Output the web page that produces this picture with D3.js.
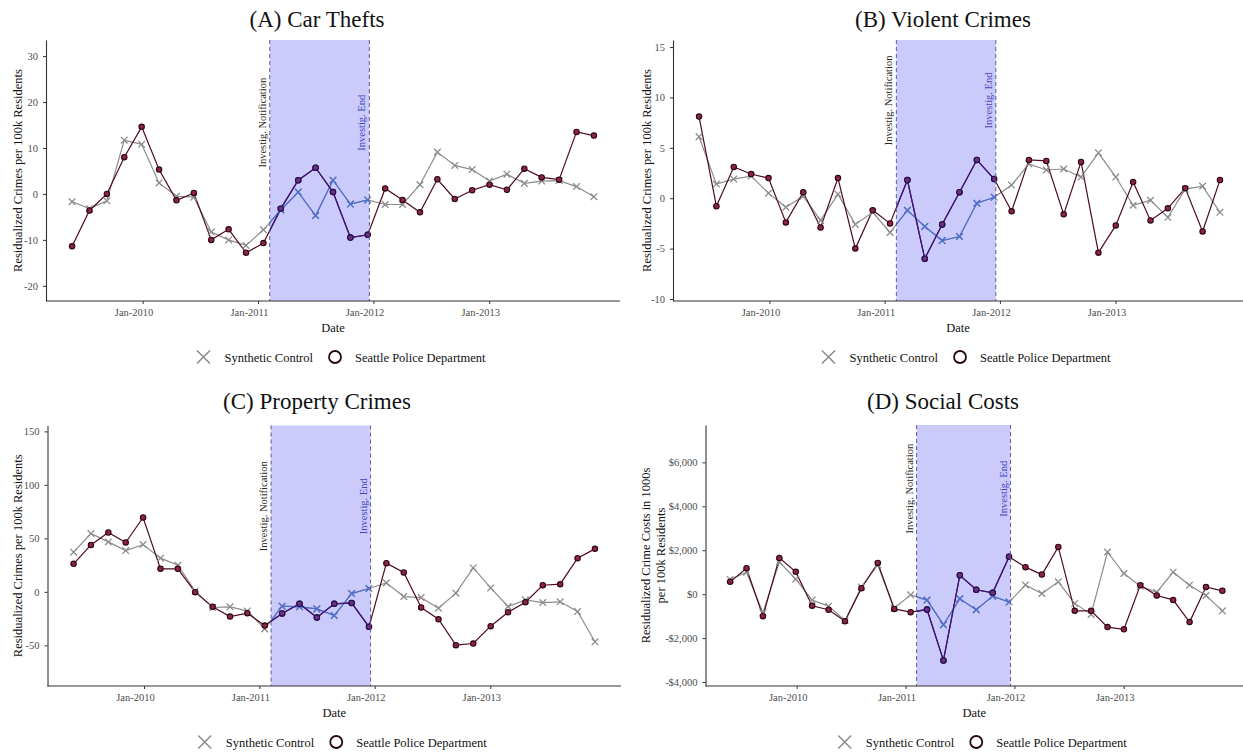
<!DOCTYPE html>
<html>
<head>
<meta charset="utf-8">
<script src="https://cdn.jsdelivr.net/npm/d3@7"></script>
<style>
  body { margin: 0; background: #fff; }
  svg { display: block; font-family: "Liberation Serif", "DejaVu Serif", serif; }
</style>
</head>
<body>
<div id="container"></div>
<script>
// periods (one point each)
const periodDates = [
  "2009-05-23", "2009-07-17", "2009-09-10", "2009-11-04", "2009-12-29",
  "2010-02-22", "2010-04-18", "2010-06-12", "2010-08-06", "2010-09-30",
  "2010-11-24", "2011-01-18", "2011-03-14", "2011-05-08", "2011-07-02",
  "2011-08-26", "2011-10-20", "2011-12-14", "2012-02-07", "2012-04-02",
  "2012-05-27", "2012-07-21", "2012-09-14", "2012-11-08", "2013-01-02",
  "2013-02-26", "2013-04-22", "2013-06-16", "2013-08-10", "2013-10-04",
  "2013-11-28"
];

const notifyDate = "2011-02-07";
const endDate = "2011-12-19";

const xTickDates = ["2010-01-01", "2011-01-01", "2012-01-01", "2013-01-01"];
const xTickLabels = ["Jan-2010", "Jan-2011", "Jan-2012", "Jan-2013"];

// (A) car thefts
const carSPD = [-11.4, -3.6, 0, 8.0, 14.6, 5.3, -1.4, 0.2, -10.0, -7.7, -12.8, -10.7, -3.2, 3.0, 5.7, 0.4,
  -9.5, -8.9, 1.2, -1.3, -4.0, 3.2, -1.1, 0.8, 2.0, 0.9, 5.5, 3.6, 3.1, 13.5, 12.7];
const carSynth = [-1.7, -3.2, -1.5, 11.7, 10.8, 2.4, -0.5, -0.7, -8.3, -10.0, -11.2, -7.8, -3.5, 0.4, -4.7, 3.0,
  -2.2, -1.3, -2.3, -2.3, 2.0, 9.1, 6.2, 5.3, 2.8, 4.3, 2.3, 2.8, 2.9, 1.6, -0.6];
const carTicks = [-20, -10, 0, 10, 20, 30];

// (B) violent crimes
const violentSPD = [8.1, -0.8, 3.1, 2.4, 2.0, -2.4, 0.6, -2.9, 2.0, -5.0, -1.2, -2.5, 1.8, -6.0, -2.6, 0.6,
  3.8, 1.9, -1.3, 3.8, 3.7, -1.6, 3.6, -5.4, -2.7, 1.6, -2.2, -1.0, 1.0, -3.3, 1.8];
const violentSynth = [6.1, 1.4, 1.9, 2.2, 0.5, -0.9, 0.2, -2.2, 0.4, -2.6, -1.4, -3.4, -1.2, -2.8, -4.2, -3.8,
  -0.5, 0.1, 1.3, 3.4, 2.8, 2.9, 2.1, 4.5, 2.1, -0.7, -0.2, -1.9, 0.9, 1.2, -1.4];
const violentTicks = [-10, -5, 0, 5, 10, 15];

// (C) property crimes
const propertySPD = [26.2, 43.9, 55.5, 46.1, 69.5, 21.5, 21.5, -0.3, -14.0, -23.1, -19.9, -31.5, -20.2, -11.2,
  -24.0, -11.2, -10.3, -32.7, 26.8, 18.1, -14.6, -25.5, -49.8, -48.3, -32.1, -19.0, -9.7, 6.2, 7.2, 31.5, 40.2];
const propertySynth = [37.1, 54.5, 46.7, 38.6, 44.2, 31.5, 24.9, 0.6, -14.6, -14.0, -17.8, -34.6, -13.4, -14.0,
  -15.9, -22.1, -1.6, 3.1, 8.4, -4.4, -5.3, -15.3, -1.2, 22.4, 3.7, -13.7, -7.5, -10.0, -9.3, -18.4, -46.7];
const propertyTicks = [-50, 0, 50, 100, 150];

// (D) social costs
const costSPD = [560, 1180, -1000, 1650, 1015, -530, -710, -1230, 270, 1420, -670, -820, -700, -3015, 860, 200,
  60, 1700, 1230, 890, 2150, -760, -760, -1500, -1600, 410, -60, -260, -1270, 330, 150];
const costSynth = [670, 1000, -850, 1470, 680, -270, -545, -1200, 330, 1330, -640, -30, -270, -1390, -210, -710,
  -90, -360, 420, 30, 560, -420, -920, 1920, 940, 360, 90, 1000, 410, -60, -760];
const costTicks = [-4000, -2000, 0, 2000, 4000, 6000];

const legendLabels = ["Synthetic Control", "Seattle Police Department"];

const W = 1243, H = 754;
const parse = d3.timeParse("%Y-%m-%d");
const dates = periodDates.map(parse);

// hyphen minus like the original, not the unicode one d3 uses
const numFmt = d => (d < 0 ? "-" : "") + Math.abs(d);
const moneyFmt = d => (d < 0 ? "-" : "") + "$" + d3.format(",")(Math.abs(d));

const panels = [
  { title: "(A) Car Thefts", spd: carSPD, synth: carSynth, ticks: carTicks, fmt: numFmt,
    yDomain: [-23.3, 33.5], yTitle: ["Residualized Crimes per 100k Residents"], labelY: 15.5,
    l: 46, r: 620, t: 40, b: 301, titleX: 317, titleY: 27, yTitleX: [22] },
  { title: "(B) Violent Crimes", spd: violentSPD, synth: violentSynth, ticks: violentTicks, fmt: numFmt,
    yDomain: [-10.2, 15.7], yTitle: ["Residualized Crimes per 100k Residents"], labelY: 9.7,
    l: 673, r: 1246, t: 40, b: 301, titleX: 943, titleY: 27, yTitleX: [651] },
  { title: "(C) Property Crimes", spd: propertySPD, synth: propertySynth, ticks: propertyTicks, fmt: numFmt,
    yDomain: [-88, 155.5], yTitle: ["Residualized Crimes per 100k Residents"], labelY: 80,
    l: 47.5, r: 621, t: 425.5, b: 686, titleX: 317, titleY: 409, yTitleX: [22] },
  { title: "(D) Social Costs", spd: costSPD, synth: costSynth, ticks: costTicks, fmt: moneyFmt,
    yDomain: [-4180, 7700], yTitle: ["Residualized Crime Costs in 1000s", "per 100k Residents"], labelY: 4800,
    l: 705.5, r: 1247, t: 425, b: 686, titleX: 943, titleY: 409, yTitleX: [650, 665] }
];

const C = {
  axis: "#333333", tickText: "#4d4d4d",
  spdLine: "#4f0a1c", spdFill: "#8e2443", spdStroke: "#2a0610",
  synth: "#8c8c8c",
  shade: "#cbcbfb", dash: "#5c5c9c",
  spdLineIn: "#3a1480", spdFillIn: "#6e2f86", spdStrokeIn: "#22104e",
  synthIn: "#4d6ed2", endText: "#4545c0"
};

const svg = d3.select("#container").append("svg")
  .attr("width", W).attr("height", H);
svg.append("rect").attr("width", W).attr("height", H).attr("fill", "#fff");

const xPath = "M-3.3,-3.3L3.3,3.3M-3.3,3.3L3.3,-3.3";

panels.forEach((p, pi) => {
  const ext = d3.extent(dates);
  const span = ext[1] - ext[0];
  const x = d3.scaleTime()
    .domain([new Date(+ext[0] - span * 0.05), new Date(+ext[1] + span * 0.05)])
    .range([p.l, p.r]);
  const y = d3.scaleLinear().domain(p.yDomain).range([p.b, p.t]);

  const g = svg.append("g");
  const x0 = x(parse(notifyDate)), x1 = x(parse(endDate));

  // shaded investigation window
  g.append("rect")
    .attr("x", x0).attr("y", p.t)
    .attr("width", x1 - x0).attr("height", p.b - p.t)
    .attr("fill", C.shade);

  const clipId = "win" + pi;
  svg.append("clipPath").attr("id", clipId)
    .append("rect")
    .attr("x", x0).attr("y", p.t - 10)
    .attr("width", x1 - x0).attr("height", p.b - p.t + 20);

  const line = d3.line().x((d, i) => x(dates[i])).y(d => y(d));

  function drawSeries(layer, col) {
    layer.append("path").datum(p.synth)
      .attr("d", line).attr("fill", "none")
      .attr("stroke", col.synth).attr("stroke-width", 1.2);
    layer.append("path").datum(p.spd)
      .attr("d", line).attr("fill", "none")
      .attr("stroke", col.spdLine).attr("stroke-width", 1.2);
    layer.selectAll(".sx").data(p.synth).enter().append("path")
      .attr("d", xPath)
      .attr("transform", (d, i) => `translate(${x(dates[i])},${y(d)})`)
      .attr("stroke", col.synth).attr("stroke-width", 1.3).attr("fill", "none");
    layer.selectAll(".sc").data(p.spd).enter().append("circle")
      .attr("cx", (d, i) => x(dates[i])).attr("cy", d => y(d))
      .attr("r", 2.7)
      .attr("fill", col.spdFill).attr("stroke", col.spdStroke).attr("stroke-width", 1.1);
  }

  drawSeries(g.append("g"), { synth: C.synth, spdLine: C.spdLine, spdFill: C.spdFill, spdStroke: C.spdStroke });
  drawSeries(g.append("g").attr("clip-path", `url(#${clipId})`),
    { synth: C.synthIn, spdLine: C.spdLineIn, spdFill: C.spdFillIn, spdStroke: C.spdStrokeIn });

  // dashed boundaries
  [x0, x1].forEach(xx => {
    g.append("line")
      .attr("x1", xx).attr("x2", xx).attr("y1", p.t).attr("y2", p.b)
      .attr("stroke", C.dash).attr("stroke-width", 1).attr("stroke-dasharray", "4,3");
  });

  // annotations
  const ly = y(p.labelY);
  g.append("text")
    .attr("transform", `translate(${x0 - 4},${ly}) rotate(-90)`)
    .attr("text-anchor", "middle").attr("font-size", 10.5).attr("fill", "#262626")
    .text("Investig. Notification");
  g.append("text")
    .attr("transform", `translate(${x1 - 4},${ly}) rotate(-90)`)
    .attr("text-anchor", "middle").attr("font-size", 10.5).attr("fill", C.endText)
    .text("Investig. End");

  // axes
  const xAxis = d3.axisBottom(x)
    .tickValues(xTickDates.map(parse))
    .tickFormat((d, i) => xTickLabels[i])
    .tickSize(3).tickSizeOuter(0);
  const yAxis = d3.axisLeft(y).tickValues(p.ticks).tickFormat(p.fmt)
    .tickSize(3).tickSizeOuter(0);

  const gx = svg.append("g").attr("transform", `translate(0,${p.b})`).call(xAxis);
  const gy = svg.append("g").attr("transform", `translate(${p.l},0)`).call(yAxis);
  gx.select(".domain").attr("d", `M${p.l},0H${Math.min(p.r, W)}`);
  [gx, gy].forEach(ax => {
    ax.select(".domain").attr("stroke", C.axis).attr("stroke-width", 1.1);
    ax.selectAll(".tick line").attr("stroke", C.axis);
    ax.selectAll(".tick text").attr("fill", C.tickText)
      .attr("font-family", "Liberation Serif, serif").attr("font-size", 10.5);
  });
  gx.selectAll(".tick text").attr("dx", -9).attr("dy", "0.9em");
  gy.selectAll(".tick text").attr("dx", -2);

  // titles
  svg.append("text")
    .attr("x", p.titleX).attr("y", p.titleY)
    .attr("text-anchor", "middle").attr("font-size", 23).attr("fill", "#111")
    .text(p.title);
  svg.append("text")
    .attr("x", (p.l + Math.min(p.r, W)) / 2).attr("y", p.b + 31)
    .attr("text-anchor", "middle").attr("font-size", 12.5).attr("fill", "#111")
    .text("Date");
  p.yTitle.forEach((s, k) => {
    svg.append("text")
      .attr("transform", `translate(${p.yTitleX[k]},${(p.t + p.b) / 2}) rotate(-90)`)
      .attr("text-anchor", "middle").attr("font-size", 12.5).attr("fill", "#111")
      .text(s);
  });

  // legend
  const lg = svg.append("g");
  const ly2 = p.b + 56;
  lg.append("path")
    .attr("d", "M-6.5,-6.5L6.5,6.5M-6.5,6.5L6.5,-6.5")
    .attr("transform", `translate(0,${ly2})`)
    .attr("stroke", C.synth).attr("stroke-width", 1.6).attr("fill", "none");
  const t1 = lg.append("text").attr("x", 21).attr("y", ly2 + 4.5)
    .attr("font-size", 12.5).attr("fill", "#111").text(legendLabels[0]);
  const w1 = t1.node().getComputedTextLength();
  const cx2 = 21 + w1 + 22;
  lg.append("circle").attr("cx", cx2).attr("cy", ly2).attr("r", 6)
    .attr("fill", "#fff").attr("stroke", C.spdStroke).attr("stroke-width", 1.8);
  const t2 = lg.append("text").attr("x", cx2 + 20).attr("y", ly2 + 4.5)
    .attr("font-size", 12.5).attr("fill", "#111").text(legendLabels[1]);
  const total = cx2 + 20 + t2.node().getComputedTextLength() + 7;
  const mid = (p.l + Math.min(p.r, W)) / 2 + 8;
  lg.attr("transform", `translate(${mid - total / 2 + 7},0)`);
});
</script>
</body>
</html>
